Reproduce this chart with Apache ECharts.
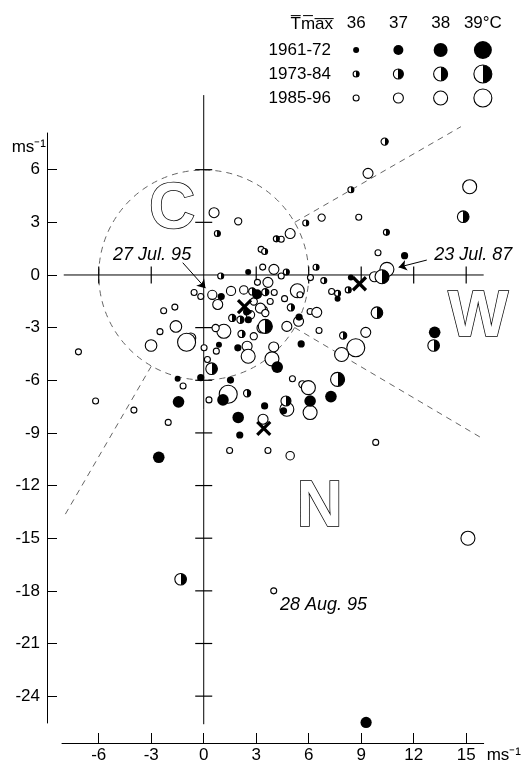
<!DOCTYPE html>
<html>
<head>
<meta charset="utf-8">
<script src="https://cdn.jsdelivr.net/npm/echarts@6/dist/echarts.min.js"></script>
<style>
html, body { margin: 0; padding: 0; background: #fff; }
#chart { width: 524px; height: 768px; }
</style>
</head>
<body>
<div id="chart"></div>
<script>
// 风矢量 [u, v, Tmax]
var p1961 = [
    [2.54, 0.17, 36], [8.41, -0.15, 36], [7.65, -1.35, 36], [1.0, -1.23, 36.3], [3.05, -1.1, 37],
    [2.45, -2.1, 36.3], [2.55, -2.55, 36.3], [5.45, -2.4, 36.3], [0.87, -3.97, 36], [1.95, -4.15, 36.3],
    [5.57, -3.93, 36.3], [4.2, -5.25, 37.4], [-0.17, -5.85, 36.3], [1.53, -5.99, 36.3], [1.1, -7.12, 37.4],
    [3.48, -7.46, 36.3], [7.27, -6.93, 37.4], [6.08, -7.18, 37.4], [4.56, -7.74, 36.3], [1.97, -8.12, 37.4],
    [2.06, -9.12, 36.3], [-1.49, -5.91, 36], [-1.44, -7.23, 37.4], [-2.57, -10.39, 37.4], [13.2, -3.27, 37.4],
    [11.48, 1.1, 36.3], [9.28, -25.5, 37.3]
];
var p1973 = [
    [0.78, 2.36, 36], [4.15, 2.06, 36], [5.83, 2.96, 36], [8.41, 4.86, 36], [3.48, 1.34, 36],
    [4.72, 0.17, 36], [0.97, -0.06, 36], [6.42, 0.44, 36], [6.86, -0.32, 36], [8.26, -0.85, 36],
    [7.65, -1.05, 36], [2.77, -0.94, 36.3], [3.52, -0.98, 36.3], [4.98, -1.85, 36.3], [1.63, -2.45, 36.3],
    [2.1, -2.55, 36.3], [3.52, -2.93, 38], [2.16, -3.36, 36.3], [7.97, -3.45, 36.3], [0.45, -5.34, 37.4],
    [2.48, -6.74, 36.3], [7.65, -5.95, 38], [4.7, -7.18, 37], [10.34, 7.6, 36.3], [14.83, 3.32, 37.4],
    [10.44, 2.43, 36], [10.19, -0.1, 38], [9.9, -2.15, 37.4], [13.14, -4.02, 37.4], [-1.32, -17.34, 37.4]
];
var p1985 = [
    [0.59, 3.55, 37], [1.97, 3.06, 36.3], [4.94, 2.36, 37], [4.43, 2.04, 36], [6.74, 3.27, 36.3],
    [3.28, 1.46, 36], [3.37, 0.45, 36], [4.01, 0.32, 37], [4.43, -0.06, 36], [6.1, -0.15, 36],
    [7.31, -0.94, 36], [5.35, -0.9, 38], [5.5, -1.13, 36], [4.62, -1.35, 36], [3.07, -0.42, 36],
    [3.67, -0.42, 37], [-0.55, -1.0, 36], [-0.17, -1.23, 36], [0.49, -1.13, 36.8], [0.8, -1.68, 37],
    [1.56, -0.91, 36.8], [2.29, -0.85, 36.6], [2.86, -1.51, 36.3], [3.8, -1.51, 36], [3.43, -1.98, 36.3],
    [2.67, -2.27, 36.6], [3.24, -1.89, 37], [3.33, -3.02, 37], [4.75, -2.93, 37], [1.15, -3.21, 38],
    [0.68, -3.02, 36.3], [0.72, -4.34, 36], [0.02, -4.15, 36], [-0.74, -3.59, 37], [2.86, -3.49, 36.3],
    [2.48, -4.06, 37], [4.0, -4.1, 37], [3.52, -2.17, 36.3], [4.03, -1.0, 36], [5.42, -2.64, 37],
    [6.08, -2.08, 36], [6.46, -2.13, 37], [6.59, -3.16, 36], [9.26, -3.27, 37], [8.69, -4.15, 39],
    [7.88, -4.53, 38], [3.9, -4.78, 38], [2.54, -4.63, 38], [0.21, -4.82, 36], [1.4, -6.8, 39],
    [0.3, -7.12, 36], [5.07, -5.91, 36], [5.64, -6.23, 36.3], [5.98, -6.42, 38], [4.75, -7.65, 38],
    [6.08, -7.84, 38], [3.39, -8.22, 37], [1.48, -10.0, 36], [3.67, -10.0, 36], [4.94, -10.3, 36.6],
    [-1.65, -1.83, 36], [-2.29, -2.04, 36], [-1.59, -2.93, 37.4], [-2.5, -3.23, 36], [-0.98, -3.83, 39],
    [-3.01, -4.02, 37.4], [-7.16, -4.38, 36], [-1.18, -6.33, 36], [-6.18, -7.18, 36], [-3.99, -7.7, 36],
    [-2.03, -8.4, 36], [9.83, -9.54, 36], [15.1, -15.0, 38], [4.0, -18.0, 36], [9.39, 5.79, 37],
    [15.2, 5.03, 38], [8.86, 3.29, 36], [9.96, 1.27, 36], [10.47, 0.32, 38], [9.76, -0.1, 37]
];
var crosses = [[2.33, -1.8], [8.9, -0.5], [3.43, -8.74]];

var periods = ['1961-72', '1973-84', '1985-96'];
var tmaxLabels = ['36', '37', '38', '39°C'];
var tmaxValues = [36, 37, 38, 39];

var xTicks = [-6, -3, 0, 3, 6, 9, 12, 15];
var yTicks = [6, 3, 0, -3, -6, -9, -12, -15, -18, -21, -24];
var zeroLineX = [-8.0, 16.0];
var zeroLineY = [10.25, -25.6];
var calmRadius = 6;
var sectorLines = [
    [[5.2, 3.0], [14.7, 8.45]],
    [[5.2, -3.0], [15.9, -9.3]],
    [[-3.0, -5.2], [-7.95, -13.7]]
];
var regionLetters = [['C', -1.8, 3.7], ['W', 15.68, -2.5], ['N', 6.62, -13.28]];
var dateNotes = [['27 Jul. 95', -2.95, 1.14], ['23 Jul. 87', 15.4, 1.14], ['28 Aug. 95', 6.85, -18.83]];
var arrows = [
    [[-1.2, 0.7], [0.1, -0.75]],
    [[12.75, 0.85], [11.14, 0.44]]
];

var FONT = 'Liberation Sans';
var chart = echarts.init(document.getElementById('chart'));

function sizeOf(t) { return 6 + 4 * (t - 36); }
function symSize(v) { return sizeOf(v[2]); }

var halfFill = new echarts.graphic.LinearGradient(0, 0, 1, 0, [
    {offset: 0, color: '#fff'}, {offset: 0.5, color: '#fff'},
    {offset: 0.5, color: '#000'}, {offset: 1, color: '#000'}
]);
var styles = [
    {color: '#000', borderColor: '#000', borderWidth: 0, opacity: 1},
    {color: halfFill, borderColor: '#000', borderWidth: 1.1, opacity: 1},
    {color: '#fff', borderColor: '#000', borderWidth: 1.1, opacity: 1}
];

var series = [];

// 零线
series.push({
    type: 'line', xAxisIndex: 0, yAxisIndex: 0, symbol: 'none', silent: true, z: 1,
    lineStyle: {color: '#000', width: 1},
    data: [[zeroLineX[0], 0], [zeroLineX[1], 0]]
});
series.push({
    type: 'line', xAxisIndex: 0, yAxisIndex: 0, symbol: 'none', silent: true, z: 1,
    lineStyle: {color: '#000', width: 1},
    data: [[0, zeroLineY[0]], [0, zeroLineY[1]]]
});
// 零线上的刻度
series.push({
    type: 'scatter', xAxisIndex: 0, yAxisIndex: 0, symbol: 'rect', silent: true, z: 1,
    itemStyle: {color: '#000', opacity: 1},
    data: xTicks.filter(function (v) { return v !== 0; }).map(function (v) {
        return {value: [v, 0], symbolSize: [1.2, 17]};
    }).concat(yTicks.filter(function (v) { return v !== 0; }).map(function (v) {
        return {value: [0, v], symbolSize: [17, 1.2]};
    }))
});
// 静风圆
series.push({
    type: 'custom', xAxisIndex: 0, yAxisIndex: 0, silent: true, z: 1,
    data: [[0, 0]],
    renderItem: function (params, api) {
        var c = api.coord([0, 0]);
        var r = api.size([calmRadius, 0])[0];
        return {
            type: 'circle',
            shape: {cx: c[0], cy: c[1], r: r},
            style: {fill: 'none', stroke: '#666', lineWidth: 1, lineDash: [6, 5]}
        };
    }
});
// 扇区分界
sectorLines.forEach(function (seg) {
    series.push({
        type: 'line', xAxisIndex: 0, yAxisIndex: 0, symbol: 'none', silent: true, z: 1,
        lineStyle: {color: '#666', width: 1, type: [6, 5]},
        data: seg
    });
});

// 散点
[p1985, p1973, p1961].forEach(function (d, i) {
    var k = 2 - i;
    series.push({
        name: periods[k], type: 'scatter', xAxisIndex: 0, yAxisIndex: 0, z: 3 + i,
        symbol: 'circle', symbolSize: symSize, itemStyle: styles[k], data: d
    });
});
series.push({
    type: 'scatter', xAxisIndex: 0, yAxisIndex: 0, z: 7, silent: true,
    symbol: 'path://M0,0 L10,10 M10,0 L0,10', symbolSize: 13,
    itemStyle: {color: 'none', borderColor: '#000', borderWidth: 3.2, opacity: 1},
    data: crosses
});

// 箭头
series.push({
    type: 'lines', coordinateSystem: 'cartesian2d', xAxisIndex: 0, yAxisIndex: 0, silent: true, z: 6,
    symbol: ['none', 'arrow'], symbolSize: 8,
    lineStyle: {color: '#000', width: 1, opacity: 1},
    data: arrows.map(function (a) { return {coords: a}; })
});
// 字母 C W N
series.push({
    type: 'scatter', xAxisIndex: 0, yAxisIndex: 0, symbolSize: 0, silent: true, clip: false, z: 2,
    itemStyle: {opacity: 1},
    label: {
        show: true, position: 'inside', formatter: '{b}',
        fontFamily: FONT, fontWeight: 'bold', fontSize: 64,
        color: '#fff', textBorderColor: '#000', textBorderWidth: 1.5
    },
    data: regionLetters.map(function (r) { return {name: r[0], value: [r[1], r[2]]}; })
});
// 日期标注
series.push({
    type: 'scatter', xAxisIndex: 0, yAxisIndex: 0, symbolSize: 0, silent: true, clip: false, z: 8,
    itemStyle: {opacity: 1},
    label: {
        show: true, position: 'inside', formatter: '{b}',
        fontFamily: FONT, fontStyle: 'italic', fontSize: 18, color: '#000'
    },
    data: dateNotes.map(function (r) { return {name: r[0], value: [r[1], r[2]]}; })
});

// 图例格
[0, 1, 2].forEach(function (k) {
    series.push({
        type: 'scatter', xAxisIndex: 2, yAxisIndex: 2, symbol: 'circle', silent: true,
        symbolSize: function (v) { return sizeOf(v[2]); },
        itemStyle: styles[k],
        data: tmaxValues.map(function (t, j) { return [j, k, t]; })
    });
});

var option = {
    animation: false,
    backgroundColor: '#fff',
    textStyle: {fontFamily: FONT, color: '#000'},
    grid: [
        {left: 62, right: 38, top: 95, bottom: 25},
        {left: 47, right: 476, top: 133, bottom: 45},
        {left: 335, width: 169, top: 38, height: 72}
    ],
    xAxis: [
        {
            gridIndex: 0, type: 'value', min: -8.1, max: 16.0, position: 'bottom',
            name: 'ms⁻¹', nameLocation: 'end', nameGap: 3,
            nameTextStyle: {fontSize: 17, color: '#000', verticalAlign: 'top', padding: [4, 0, 0, 0]},
            axisLine: {show: true, onZero: false, lineStyle: {color: '#000', width: 1}},
            axisTick: {show: true, inside: true, length: 10, customValues: xTicks, lineStyle: {color: '#000'}},
            axisLabel: {fontSize: 17, color: '#000', margin: 4, customValues: xTicks},
            splitLine: {show: false}
        },
        {gridIndex: 1, type: 'value', min: 0, max: 1, show: false},
        {
            gridIndex: 2, type: 'category', data: tmaxLabels, position: 'top',
            axisLine: {show: false}, axisTick: {show: false},
            axisLabel: {fontSize: 17, color: '#000', margin: 6, interval: 0}
        }
    ],
    yAxis: [
        {gridIndex: 0, type: 'value', min: -26.67, max: 10.256, show: false},
        {
            gridIndex: 1, type: 'value', min: -25.53, max: 8.09, position: 'left',
            name: 'ms⁻¹', nameLocation: 'end', nameGap: -14,
            nameTextStyle: {fontSize: 17, color: '#000', align: 'right', verticalAlign: 'middle', padding: [0, 1, 0, 0]},
            axisLine: {show: true, onZero: false, lineStyle: {color: '#000', width: 1}},
            axisTick: {show: true, inside: true, length: 10, customValues: yTicks, lineStyle: {color: '#000'}},
            axisLabel: {fontSize: 17, color: '#000', margin: 7, customValues: yTicks},
            splitLine: {show: false}
        },
        {
            gridIndex: 2, type: 'category', data: periods, inverse: true,
            name: 'T\u0305m\u0305a\u0305x\u0305', nameLocation: 'start', nameGap: 14,
            nameTextStyle: {fontSize: 17, color: '#000', align: 'right', verticalAlign: 'middle', padding: [0, 2, 0, 0]},
            axisLine: {show: false}, axisTick: {show: false},
            axisLabel: {fontSize: 17, color: '#000', margin: 4, interval: 0}
        }
    ],
    series: series
};

chart.setOption(option);
</script>
</body>
</html>
